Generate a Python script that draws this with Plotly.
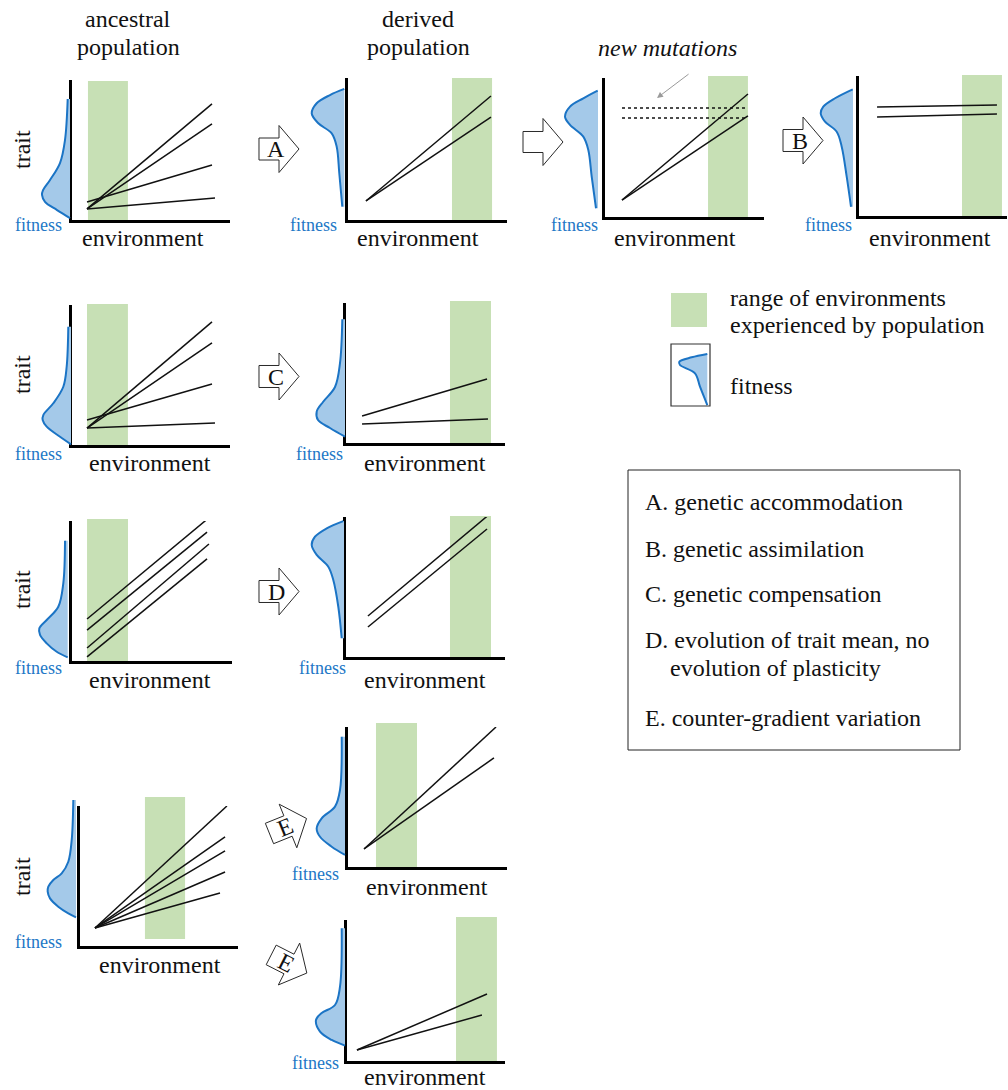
import math
import plotly.graph_objects as go

W, H = 1008, 1090
SERIF = "Liberation Serif, Times New Roman, serif"
INK = "#111111"
GREEN = "#c7e0b5"
BLUE_LINE = "#1b74c5"
BLUE_FILL = "#a4c9e9"
BLUE_TEXT = "#2277c6"

# ---------------- data (axis units: environment 0..1, trait 0..1) ----------------
# reaction norms: (env_start, trait_start, env_end, trait_end)
norms_anc_A = [(0.095, 0.079, 0.886, 0.829), (0.095, 0.079, 0.886, 0.686),
               (0.095, 0.129, 0.886, 0.393), (0.095, 0.079, 0.905, 0.157)]
norms_der_A = [(0.113, 0.134, 0.899, 0.873), (0.113, 0.134, 0.899, 0.725)]
norms_mut = [(0.107, 0.122, 0.899, 0.885), (0.107, 0.122, 0.899, 0.727)]
mut_dotted = [(0.107, 0.784, 0.899, 0.784), (0.107, 0.712, 0.899, 0.712)]
norms_der_B = [(0.122, 0.779, 0.932, 0.793), (0.122, 0.707, 0.932, 0.729)]
norms_anc_C = [(0.095, 0.121, 0.886, 0.879), (0.095, 0.121, 0.886, 0.729),
               (0.095, 0.179, 0.886, 0.436), (0.095, 0.121, 0.905, 0.157)]
norms_der_C = [(0.101, 0.193, 0.887, 0.457), (0.101, 0.136, 0.893, 0.171)]
norms_anc_D = [(0.094, 0.300, 0.844, 1.012), (0.094, 0.221, 0.844, 0.921),
               (0.094, 0.093, 0.856, 0.836), (0.094, 0.029, 0.844, 0.729)]
norms_der_D = [(0.138, 0.293, 0.887, 1.005), (0.138, 0.214, 0.887, 0.914)]
norms_anc_E = [(0.095, 0.129, 0.930, 1.0), (0.095, 0.129, 0.918, 0.779),
               (0.095, 0.129, 0.918, 0.679), (0.095, 0.129, 0.918, 0.529),
               (0.095, 0.129, 0.886, 0.379)]
norms_der_E1 = [(0.101, 0.129, 0.931, 1.0), (0.101, 0.129, 0.918, 0.779)]
norms_der_E2 = [(0.063, 0.078, 0.886, 0.475), (0.063, 0.078, 0.854, 0.326)]

# range of environments experienced: (env_lo, env_hi, trait_lo, trait_hi)
green_anc_A = (0.101, 0.354, 0.0, 0.993)
green_der_A = (0.654, 0.906, 0.0, 1.0)
green_mut = (0.648, 0.899, 0.0, 1.014)
green_der_B = (0.696, 0.966, 0.0, 1.007)
green_anc_C = (0.095, 0.354, 0.0, 1.007)
green_der_C = (0.654, 0.912, 0.0, 1.014)
green_anc_D = (0.094, 0.350, 0.0, 1.014)
green_der_D = (0.654, 0.912, 0.0, 1.007)
green_anc_E = (0.411, 0.665, 0.05, 1.064)
green_der_E1 = (0.176, 0.434, 0.0, 1.029)
green_der_E2 = (0.690, 0.949, 0.0, 1.021)

# fitness curves: fitness (0 at baseline, growing leftwards) and trait
fit_anc_A_f = [0.066, 0.143, 0.286, 0.571, 0.771, 0.800, 0.714, 0.371, 0.0]
fit_anc_A_t = [0.864, 0.571, 0.407, 0.286, 0.214, 0.179, 0.129, 0.071, 0.014]
fit_der_A_f = [0.0, 0.409, 0.789, 0.931, 0.743, 0.360, 0.217, 0.143, 0.057]
fit_der_A_t = [0.923, 0.880, 0.822, 0.751, 0.681, 0.610, 0.516, 0.329, 0.094]
fit_mut_f = [0.009, 0.420, 0.800, 0.943, 0.800, 0.420, 0.277, 0.180, 0.057]
fit_mut_t = [0.909, 0.854, 0.794, 0.722, 0.662, 0.578, 0.482, 0.290, 0.063]
fit_der_B_f = [0.009, 0.514, 0.849, 0.923, 0.800, 0.466, 0.323, 0.180, 0.057]
fit_der_B_t = [0.905, 0.841, 0.781, 0.734, 0.674, 0.602, 0.495, 0.281, 0.066]
fit_anc_C_f = [0.077, 0.124, 0.220, 0.506, 0.791, 0.809, 0.694, 0.314, 0.0]
fit_anc_C_t = [0.845, 0.559, 0.416, 0.298, 0.214, 0.179, 0.131, 0.059, 0.005]
fit_der_C_f = [0.077, 0.143, 0.286, 0.629, 0.809, 0.771, 0.429, 0.0]
fit_der_C_t = [0.884, 0.571, 0.400, 0.293, 0.224, 0.164, 0.107, 0.045]
fit_anc_D_f = [0.077, 0.126, 0.269, 0.600, 0.811, 0.791, 0.600, 0.314, 0.0]
fit_anc_D_t = [0.859, 0.555, 0.388, 0.293, 0.233, 0.186, 0.126, 0.066, 0.026]
fit_der_D_f = [0.020, 0.494, 0.829, 0.923, 0.780, 0.449, 0.306, 0.163, 0.066]
fit_der_D_t = [0.971, 0.919, 0.859, 0.800, 0.729, 0.645, 0.550, 0.359, 0.134]
fit_anc_E_f = [0.077, 0.123, 0.220, 0.409, 0.649, 0.791, 0.809, 0.743, 0.506, 0.220, 0.0]
fit_anc_E_t = [1.043, 0.757, 0.602, 0.519, 0.471, 0.424, 0.388, 0.340, 0.281, 0.233, 0.205]
fit_der_E1_f = [0.094, 0.143, 0.286, 0.666, 0.809, 0.714, 0.380, 0.0]
fit_der_E1_t = [0.931, 0.550, 0.431, 0.348, 0.276, 0.216, 0.145, 0.086]
fit_der_E2_f = [0.094, 0.143, 0.286, 0.666, 0.829, 0.714, 0.380, 0.0]
fit_der_E2_t = [0.941, 0.527, 0.397, 0.340, 0.291, 0.208, 0.149, 0.109]
fit_key_f = [0.0, 0.446, 0.800, 0.780, 0.351, 0.209, 0.0]
fit_key_t = [0.839, 0.785, 0.714, 0.661, 0.527, 0.311, 0.016]

# text
key_lines = ["A. genetic accommodation", "B. genetic assimilation", "C. genetic compensation",
             "D. evolution of trait mean, no", "evolution of plasticity",
             "E. counter-gradient variation"]

# ---------------- layout geometry (pixels) ----------------
# (axis x, axis end x, axis top y, axis bottom y), norms, green, fit f, fit t, fitness baseline x
panels = [
    ((72, 230, 80, 220), norms_anc_A, green_anc_A, fit_anc_A_f, fit_anc_A_t, 70),
    ((348, 507, 78, 220), norms_der_A, green_der_A, fit_der_A_f, fit_der_A_t, 344.3),
    ((605, 764, 78, 217), norms_mut, green_mut, fit_mut_f, fit_mut_t, 598),
    ((859, 1007, 76, 216), norms_der_B, green_der_B, fit_der_B_f, fit_der_B_t, 853),
    ((72, 230, 305, 445), norms_anc_C, green_anc_C, fit_anc_C_f, fit_anc_C_t, 71),
    ((346, 505, 303, 443), norms_der_C, green_der_C, fit_der_C_f, fit_der_C_t, 345),
    ((72, 232, 521, 661), norms_anc_D, green_anc_D, fit_anc_D_f, fit_anc_D_t, 67.7),
    ((346, 505, 517, 657), norms_der_D, green_der_D, fit_der_D_f, fit_der_D_t, 344),
    ((80, 238, 806, 946), norms_anc_E, green_anc_E, fit_anc_E_f, fit_anc_E_t, 76),
    ((348, 507, 727, 867), norms_der_E1, green_der_E1, fit_der_E1_f, fit_der_E1_t, 345),
    ((347, 505, 920, 1061), norms_der_E2, green_der_E2, fit_der_E2_f, fit_der_E2_t, 345),
]


def px(x):
    return x / W


def py(y):
    return 1 - y / H


fig = go.Figure()
axes_layout = {}
shapes = []
annotations = []
n_axes = [0]


def new_axes(xdom, ydom, xrange, yrange, show):
    n_axes[0] += 1
    i = n_axes[0]
    sx = "" if i == 1 else str(i)
    xid, yid = "x" + sx, "y" + sx
    common = dict(showgrid=False, zeroline=False, showticklabels=False, ticks="",
                  fixedrange=True, visible=show)
    axes_layout["xaxis" + sx] = dict(domain=xdom, range=xrange, anchor=yid,
                                     showline=show, linecolor="black", linewidth=3, **common)
    axes_layout["yaxis" + sx] = dict(domain=ydom, range=yrange, anchor=xid,
                                     showline=show, linecolor="black", linewidth=3, **common)
    return xid, yid


def add_fitness(f, t, base, ytop, ybot, width=35.0):
    hgt = ybot - ytop
    xdom = [px(base - width * 1.15), px(base + width * 0.05)]
    ydom = [py(ybot + 0.05 * hgt), py(ytop - 0.15 * hgt)]
    xid, yid = new_axes(xdom, ydom, [1.15, -0.05], [-0.05, 1.15], False)
    fig.add_trace(go.Scatter(x=f, y=t, xaxis=xid, yaxis=yid, mode="lines",
                             line=dict(color=BLUE_LINE, width=2, shape="spline", smoothing=1.0),
                             fill="tozerox", fillcolor=BLUE_FILL, hoverinfo="skip"))


for (box, norms, green, ff, ft, base) in panels:
    x0, x1, yt, yb = box
    xid, yid = new_axes([px(x0), px(x1)], [py(yb), py(yt)], [0, 1], [0, 1], True)
    # green range
    shapes.append(dict(type="rect", xref=xid + " domain", yref=yid + " domain",
                       x0=green[0], x1=green[1], y0=green[2], y1=green[3],
                       fillcolor=GREEN, line=dict(width=0), layer="below"))
    xs, ys = [], []
    for (e0, t0, e1, t1) in norms:
        xs += [e0, e1, None]
        ys += [t0, t1, None]
    fig.add_trace(go.Scatter(x=xs, y=ys, xaxis=xid, yaxis=yid, mode="lines",
                             line=dict(color=INK, width=1.5), hoverinfo="skip"))
    if norms is norms_mut:
        dx, dy = [], []
        for (e0, t0, e1, t1) in mut_dotted:
            dx += [e0, e1, None]
            dy += [t0, t1, None]
        fig.add_trace(go.Scatter(x=dx, y=dy, xaxis=xid, yaxis=yid, mode="lines",
                                 line=dict(color=INK, width=1.5, dash="dot"), hoverinfo="skip"))
        annotations.append(dict(x=0.327, y=0.856, ax=0.535, ay=1.036, xref=xid, yref=yid,
                                axref=xid, ayref=yid, text="", showarrow=True, arrowhead=2,
                                arrowsize=1.2, arrowwidth=1, arrowcolor="#9a9a9a"))
    add_fitness(ff, ft, base, yt, yb)

# key fitness icon
add_fitness(fit_key_f, fit_key_t, 707.3, 344, 406)


# ---------------- text ----------------
def text(s, x, y, size=24, color=INK, anchor="center", angle=0):
    annotations.append(dict(text=s, x=px(x), y=py(y), xref="paper", yref="paper", showarrow=False,
                            xanchor=anchor, yanchor="middle", textangle=angle,
                            font=dict(family=SERIF, size=size, color=color)))


text("ancestral", 128, 19)
text("population", 128, 47)
text("derived", 418, 19)
text("population", 418, 47)
text("<i>new mutations</i>", 667, 48)

for (x, y) in [(143, 238), (418, 238), (675, 238), (930, 238), (150, 463), (425, 463),
               (150, 680), (425, 680), (160, 965), (427, 887), (425, 1077)]:
    text("environment", x, y)
for (x, y) in [(38, 225), (313, 225), (574, 225), (828, 225), (38, 454), (319, 454),
               (38, 668), (322, 668), (38, 942), (315, 874), (315, 1063)]:
    text("fitness", x, y, size=18, color=BLUE_TEXT)
for y in [150, 375, 590, 877]:
    text("trait", 22, y, angle=-90)

# key
shapes.append(dict(type="rect", xref="paper", yref="paper", x0=px(671), x1=px(707), y0=py(327),
                   y1=py(293), fillcolor=GREEN, line=dict(width=0)))
text("range of environments", 728, 298, anchor="left")
text("experienced by population", 728, 325, anchor="left")
shapes.append(dict(type="rect", xref="paper", yref="paper", x0=px(671), x1=px(710), y0=py(406),
                   y1=py(344), line=dict(color="#333333", width=1.2)))
text("fitness", 728, 386, anchor="left")

shapes.append(dict(type="rect", xref="paper", yref="paper", x0=px(628), x1=px(960), y0=py(750),
                   y1=py(470), line=dict(color="#222222", width=1)))
for s, x, y in zip(key_lines, [643, 643, 643, 643, 668, 643], [502, 549, 594, 640, 668, 718]):
    text(s, x, y, anchor="left")


# ---------------- block arrows ----------------
def block_arrow(cx, cy, angle, label, bh=11.0):
    pts = [(-20, -bh), (0, -bh), (0, -23.5), (20, 0), (0, 23.5), (0, bh), (-20, bh)]
    a = math.radians(angle)
    path = ""
    for k, (lx, ly) in enumerate(pts):
        X = cx + lx * math.cos(a) - ly * math.sin(a)
        Y = cy + lx * math.sin(a) + ly * math.cos(a)
        path += ("M" if k == 0 else "L") + f"{px(X):.5f},{py(Y):.5f}"
    path += "Z"
    shapes.append(dict(type="path", path=path, xref="paper", yref="paper",
                       fillcolor="white", line=dict(color="#2a2a2a", width=1)))
    if label:
        lx, ly = -3, 0
        X = cx + lx * math.cos(a) - ly * math.sin(a)
        Y = cy + lx * math.sin(a) + ly * math.cos(a)
        text(label, X, Y, size=24, angle=angle)


block_arrow(279, 149, 0, "A")
block_arrow(543, 142, 0, "", bh=10.5)
block_arrow(803, 140.5, 0, "B")
block_arrow(279, 376.5, 0, "C")
block_arrow(279, 591.5, 0, "D")
block_arrow(288, 826, -22, "E")
block_arrow(289, 964, 27, "E")

fig.update_layout(width=W, height=H, margin=dict(l=0, r=0, t=0, b=0), showlegend=False,
                  paper_bgcolor="white", plot_bgcolor="rgba(0,0,0,0)",
                  shapes=shapes, annotations=annotations, **axes_layout)

fig.write_html("out.html", config={"displayModeBar": False, "staticPlot": True})

# remove the default page margin so the figure sits at the window's top-left corner
with open("out.html", "r", encoding="utf-8") as fh:
    html = fh.read()
html = html.replace("<body>", '<body style="margin:0;padding:0;overflow:hidden">', 1)
with open("out.html", "w", encoding="utf-8") as fh:
    fh.write(html)
